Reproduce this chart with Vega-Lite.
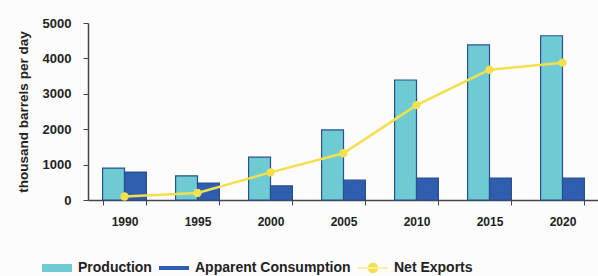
{
  "$schema": "https://vega.github.io/schema/vega-lite/v6.json",
  "width": 511,
  "height": 177,
  "autosize": "none",
  "padding": {"left": 88, "top": 23, "right": 0, "bottom": 76},
  "background": "#fcfcfc",
  "config": {
    "view": {"stroke": null},
    "font": "Liberation Sans",
    "axis": {"labelFont": "Liberation Sans", "labelFontWeight": "bold", "labelColor": "#222", "domainColor": "#444", "tickColor": "#444", "grid": false, "titleFont": "Liberation Sans"},
    "legend": {"labelFont": "Liberation Sans", "labelFontWeight": "bold", "labelColor": "#222"}
  },
  "data": {"values": [
    {"year": "1990", "series": "Production", "value": 900},
    {"year": "1990", "series": "Apparent Consumption", "value": 790},
    {"year": "1990", "series": "Net Exports", "value": 100},
    {"year": "1995", "series": "Production", "value": 680},
    {"year": "1995", "series": "Apparent Consumption", "value": 480},
    {"year": "1995", "series": "Net Exports", "value": 200},
    {"year": "2000", "series": "Production", "value": 1210},
    {"year": "2000", "series": "Apparent Consumption", "value": 400},
    {"year": "2000", "series": "Net Exports", "value": 780},
    {"year": "2005", "series": "Production", "value": 1980},
    {"year": "2005", "series": "Apparent Consumption", "value": 560},
    {"year": "2005", "series": "Net Exports", "value": 1320},
    {"year": "2010", "series": "Production", "value": 3390},
    {"year": "2010", "series": "Apparent Consumption", "value": 620},
    {"year": "2010", "series": "Net Exports", "value": 2680},
    {"year": "2015", "series": "Production", "value": 4380},
    {"year": "2015", "series": "Apparent Consumption", "value": 620},
    {"year": "2015", "series": "Net Exports", "value": 3680},
    {"year": "2020", "series": "Production", "value": 4640},
    {"year": "2020", "series": "Apparent Consumption", "value": 620},
    {"year": "2020", "series": "Net Exports", "value": 3880}
  ]},
  "encoding": {
    "x": {"field": "year", "type": "nominal", "title": null,
      "scale": {"paddingInner": 0.4, "paddingOuter": 0.2},
      "axis": {"labelAngle": 0, "tickBand": "extent", "tickSize": 5, "labelPadding": 11, "labelFontSize": 12, "domainWidth": 1.5}},
    "y": {"field": "value", "type": "quantitative",
      "scale": {"domain": [0, 5000], "nice": false},
      "title": "thousand barrels per day",
      "axis": {"values": [0, 1000, 2000, 3000, 4000, 5000], "format": "d", "tickSize": 5, "labelPadding": 12, "labelFontSize": 13, "titleFontSize": 13.5, "titleFontWeight": "bold", "titleColor": "#222", "titlePadding": 12, "domainWidth": 1.5}}
  },
  "layer": [
    {
      "transform": [{"filter": "datum.series !== 'Net Exports'"}],
      "mark": {"type": "bar", "stroke": "#2a4f8f", "strokeWidth": 1.2},
      "encoding": {
        "xOffset": {"field": "series", "type": "nominal", "scale": {"domain": ["Production", "Apparent Consumption"], "paddingInner": 0}},
        "color": {"field": "series", "type": "nominal",
          "scale": {"domain": ["Production", "Apparent Consumption", "Net Exports"], "range": ["#6fcbd3", "#2f5eae", "#f4df4e"]},
          "legend": {"title": null, "orient": "none", "direction": "horizontal", "legendX": -38, "legendY": 238, "labelFontSize": 14, "labelOffset": 14, "columnPadding": 7, "symbolSize": 64, "symbolStrokeWidth": 0, "symbolOpacity": 1}}
      }
    },
    {
      "transform": [{"filter": "datum.series === 'Net Exports'"}],
      "mark": {"type": "line", "strokeWidth": 2.5, "point": {"filled": true, "size": 70}},
      "encoding": {
        "color": {"field": "series", "type": "nominal"}
      }
    },
    {
      "transform": [{"filter": "datum.series === 'Net Exports'"}],
      "mark": {"type": "point", "filled": true, "opacity": 0},
      "encoding": {
        "color": {"field": "series", "type": "nominal"},
        "shape": {"field": "series", "type": "nominal",
          "scale": {"domain": ["Production", "Apparent Consumption", "Net Exports"], "range": ["M-3.75,-1H3.75V1H-3.75Z", "M-3.75,-0.5H3.75V0.5H-3.75Z", "M-3.75,-0.12H3.75V0.12H-3.75Z M-1.3,0A1.3,1.3 0 1,0 1.3,0A1.3,1.3 0 1,0 -1.3,0Z"]}}
      }
    }
  ]
}
